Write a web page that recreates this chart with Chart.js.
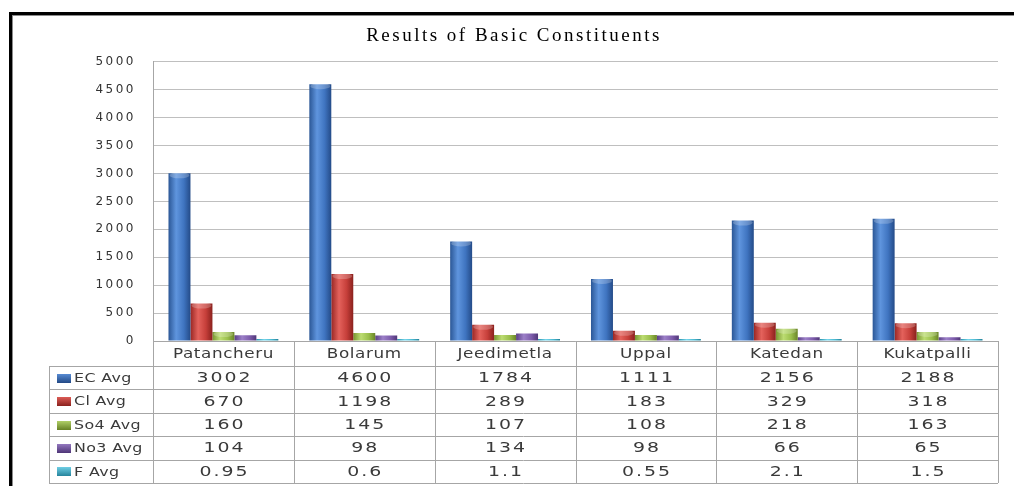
<!DOCTYPE html>
<html>
<head>
<meta charset="utf-8">
<title>Results of Basic Constituents</title>
<script src="https://cdn.jsdelivr.net/npm/chart.js@4.4.1/dist/chart.umd.min.js"></script>
<style>
  body { margin: 0; background: #fff; }
  canvas { display: block; }
</style>
</head>
<body>
<canvas id="myChart" width="1014" height="486"></canvas>
<script>
/***************************** donnees *********************************/
const sites  = ['Patancheru', 'Bolarum', 'Jeedimetla', 'Uppal', 'Katedan', 'Kukatpalli'];
const ecAvg  = [3002, 4600, 1784, 1111, 2156, 2188];
const clAvg  = [670, 1198, 289, 183, 329, 318];
const so4Avg = [160, 145, 107, 108, 218, 163];
const no3Avg = [104, 98, 134, 98, 66, 65];
const fAvg   = [0.95, 0.6, 1.1, 0.55, 2.1, 1.5];

// dark edge, highlight, body, dark edge -> fake cylinder look of the excel bars
const shades = [
  ['#2b5796', '#5f95de', '#3f74c0', '#244b88'],
  ['#9a2724', '#e4625c', '#c63f3a', '#8a211d'],
  ['#779530', '#bcdc72', '#9abf4c', '#6a8528'],
  ['#5a3f86', '#9c80c8', '#7d5cab', '#4f3678'],
  ['#2a93ab', '#74d4ea', '#4bb8d0', '#24829a']
];
const stops = [0, 0.35, 0.7, 1];

// the reference picture is stretched sideways, so its text is wide
function wideText(ctx, txt, x, y, sx) {
  ctx.save();
  ctx.translate(x, y);
  ctx.scale(sx, 1);
  ctx.fillText(txt, 0, 0);
  ctx.restore();
}

/************************** plugins ************************************/
const frame = {
  id: 'frame',
  beforeDraw(chart) {
    const ctx = chart.ctx;
    ctx.save();
    ctx.fillStyle = '#fff';
    ctx.fillRect(0, 0, chart.width, chart.height);
    ctx.fillStyle = '#000';
    ctx.fillRect(9, 12, chart.width, 3);
    ctx.fillRect(9, 12, 3, chart.height);
    ctx.fillStyle = '#8c8c8c';
    ctx.fillRect(12, 15, chart.width, 1);
    ctx.fillRect(12, 15, 1, chart.height);
    ctx.restore();
    ctx.letterSpacing = '2.5px'; // title + y ticks
  }
};

const cylinder = {
  id: 'cylinder',
  beforeDatasetsDraw(chart) {
    const ctx = chart.ctx;
    chart.data.datasets.forEach((ds, d) => {
      chart.getDatasetMeta(d).data.forEach(bar => {
        const x0 = bar.x - bar.width / 2;
        const g = ctx.createLinearGradient(x0, 0, x0 + bar.width, 0);
        shades[d].forEach((c, k) => g.addColorStop(stops[k], c));
        bar.options.backgroundColor = g;
      });
    });
  },
  afterDatasetsDraw(chart) {
    const ctx = chart.ctx;
    ctx.save();
    chart.data.datasets.forEach((ds, d) => {
      chart.getDatasetMeta(d).data.forEach(bar => {
        if (bar.base - bar.y < 8) return;
        ctx.fillStyle = 'rgba(255,255,255,0.22)';
        ctx.beginPath();
        ctx.ellipse(bar.x, bar.y + 2, bar.width / 2 - 1, 3, 0, 0, Math.PI * 2);
        ctx.fill();
      });
    });
    ctx.restore();
  }
};

const dataTable = {
  id: 'dataTable',
  afterDraw(chart) {
    const ctx = chart.ctx;
    const area = chart.chartArea;
    const xs = chart.scales.x;
    const colW = xs.width / sites.length;
    const top = Math.round(area.bottom);
    const headH = 25, rowH = 23.4, left = 49;
    const rows = chart.data.datasets;
    const bottom = top + headH + rowH * rows.length;

    ctx.save();
    ctx.letterSpacing = '0px';
    ctx.strokeStyle = '#a6a6a6';
    ctx.lineWidth = 1;
    ctx.beginPath();
    ctx.moveTo(area.left, top + 0.5);
    ctx.lineTo(area.right, top + 0.5);
    for (let r = 0; r <= rows.length; r++) {
      const y = Math.round(top + headH + r * rowH) + 0.5;
      ctx.moveTo(left, y);
      ctx.lineTo(area.right, y);
    }
    ctx.moveTo(left + 0.5, top + headH);
    ctx.lineTo(left + 0.5, bottom);
    for (let i = 0; i <= sites.length; i++) {
      const x = Math.round(area.left + i * colW) + 0.5;
      ctx.moveTo(x, top);
      ctx.lineTo(x, bottom);
    }
    ctx.stroke();

    ctx.fillStyle = '#3a3a3a';
    ctx.textAlign = 'center';
    ctx.textBaseline = 'middle';
    ctx.font = '14px "DejaVu Sans"';
    ctx.letterSpacing = '0.5px';
    sites.forEach((s, i) => wideText(ctx, s, xs.getPixelForValue(i), top + headH / 2 + 1, 1.2));
    ctx.font = '13.5px "DejaVu Sans"';
    ctx.letterSpacing = '1.4px';
    rows.forEach((ds, r) => {
      const y = top + headH + rowH * r + rowH / 2 + 1;
      ds.data.forEach((v, i) => wideText(ctx, String(v), xs.getPixelForValue(i) + 1, y, 1.4));
    });

    // row labels with their legend keys
    ctx.textAlign = 'left';
    ctx.font = '13px "DejaVu Sans"';
    ctx.letterSpacing = '0.3px';
    rows.forEach((ds, r) => {
      const y = top + headH + rowH * r + rowH / 2;
      const g = ctx.createLinearGradient(0, y - 5, 0, y + 5);
      g.addColorStop(0, shades[r][1]);
      g.addColorStop(1, shades[r][3]);
      ctx.fillStyle = g;
      ctx.fillRect(57, Math.round(y - 4), 14, 9);
      ctx.fillStyle = '#3a3a3a';
      wideText(ctx, ds.label, 74, y + 1, 1.22);
    });
    ctx.restore();
  }
};

/*************************** chart *************************************/
const ctxc = document.getElementById('myChart');
const myChart = new Chart(ctxc, {
  type: 'bar',
  data: {
    labels: sites,
    datasets: [
      { label: 'EC Avg',  data: ecAvg,  backgroundColor: () => shades[0][2] },
      { label: 'Cl Avg',  data: clAvg,  backgroundColor: () => shades[1][2] },
      { label: 'So4 Avg', data: so4Avg, backgroundColor: () => shades[2][2] },
      { label: 'No3 Avg', data: no3Avg, backgroundColor: () => shades[3][2] },
      { label: 'F Avg',   data: fAvg,   backgroundColor: () => shades[4][2], minBarLength: 2 }
    ]
  },
  options: {
    responsive: false,
    animation: false,
    datasets: {
      bar: { categoryPercentage: 0.78, barPercentage: 1, borderWidth: 0 }
    },
    // left padding only there to push the centred title a bit to the right
    layout: { padding: { left: 14, top: 0, right: 0, bottom: 145 } },
    plugins: {
      legend: { display: false },
      tooltip: { enabled: false },
      title: {
        display: true,
        text: 'Results of Basic Constituents',
        color: '#000',
        font: { family: 'Liberation Serif', size: 19, weight: 'normal' },
        padding: { top: 25, bottom: 14 }
      }
    },
    scales: {
      x: { display: false },
      y: {
        min: 0,
        max: 5000,
        afterFit: scale => { scale.width = 139; },
        ticks: {
          stepSize: 500,
          padding: 17,
          color: '#333',
          font: { family: 'DejaVu Sans', size: 12 },
          callback: v => String(v)
        },
        grid: { color: '#bfbfbf', drawTicks: false },
        border: { color: '#a6a6a6' }
      },
      // empty axis, keeps the white margin right of the plot
      yRight: {
        position: 'right',
        grid: { display: false, drawOnChartArea: false },
        ticks: { display: false },
        border: { display: false },
        afterFit: scale => { scale.width = 16; }
      }
    }
  },
  plugins: [frame, cylinder, dataTable]
});
</script>
</body>
</html>
